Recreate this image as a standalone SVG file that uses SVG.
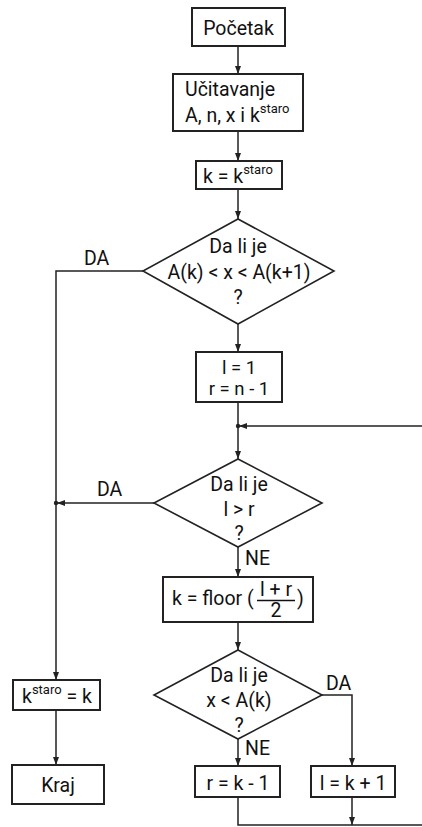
<svg xmlns="http://www.w3.org/2000/svg" width="422" height="827" viewBox="0 0 422 827">
<style>
.box{fill:#fff;stroke:#222;stroke-width:2}
.dia{fill:#fff;stroke:#222;stroke-width:1.6}
.ln{fill:none;stroke:#222;stroke-width:1.5}
text{font-family:Roboto,"Liberation Sans",sans-serif;font-size:19.5px;fill:#111}
.c{text-anchor:middle}
.sup{font-size:13px}
.tight{font-size:18.5px}
</style>
<defs>
<marker id="ar" viewBox="0 0 8 6" refX="8" refY="3" markerWidth="8" markerHeight="6" markerUnits="userSpaceOnUse" orient="auto">
<path d="M0,0 L8,3 L0,6 Z" fill="#222"/>
</marker>
</defs>
<rect width="422" height="827" fill="#fff"/>
<g id="connectors">
<line class="ln" x1="238" y1="46" x2="238" y2="74" marker-end="url(#ar)"/>
<line class="ln" x1="238" y1="131" x2="238" y2="161" marker-end="url(#ar)"/>
<line class="ln" x1="238" y1="189" x2="238" y2="219" marker-end="url(#ar)"/>
<line class="ln" x1="238" y1="324" x2="238" y2="352" marker-end="url(#ar)"/>
<line class="ln" x1="238" y1="402" x2="238" y2="459" marker-end="url(#ar)"/>
<line class="ln" x1="424" y1="426" x2="239" y2="426" marker-end="url(#ar)"/>
<circle cx="238" cy="426" r="2.2" fill="#222"/>
<polyline class="ln" points="143,271 56,271 56,680" marker-end="url(#ar)"/>
<line class="ln" x1="154" y1="503" x2="57" y2="503" marker-end="url(#ar)"/>
<circle cx="56" cy="503" r="2.2" fill="#222"/>
<line class="ln" x1="238" y1="547" x2="238" y2="577" marker-end="url(#ar)"/>
<line class="ln" x1="238" y1="622" x2="238" y2="650" marker-end="url(#ar)"/>
<line class="ln" x1="238" y1="739" x2="238" y2="766" marker-end="url(#ar)"/>
<polyline class="ln" points="322,695 352,695 352,766" marker-end="url(#ar)"/>
<line class="ln" x1="56" y1="710" x2="56" y2="765" marker-end="url(#ar)"/>
<polyline class="ln" points="238,797 238,825 424,825"/>
<line class="ln" x1="352" y1="797" x2="352" y2="825" marker-end="url(#ar)"/>
<text x="84" y="265">DA</text>
<text x="97" y="496">DA</text>
<text x="245" y="565">NE</text>
<text x="326" y="690">DA</text>
<text x="245" y="755">NE</text>
</g>
<g id="pocetak">
<rect class="box" x="192" y="8" width="93" height="38"/>
<text class="c" x="238.5" y="35">Početak</text>
</g>
<g id="ucitavanje">
<rect class="box" x="173" y="74" width="130" height="57"/>
<text x="185" y="96">Učitavanje</text>
<text x="185" y="121.5">A, n, x i k<tspan class="sup" dy="-9">staro</tspan></text>
</g>
<g id="kstaro">
<rect class="box" x="196" y="161" width="86" height="28"/>
<text x="203" y="183">k = k<tspan class="sup" dy="-9">staro</tspan></text>
</g>
<g id="uslov1">
<polygon class="dia" points="238,219 334,271 238,324 143,271"/>
<text class="c" x="238" y="253">Da li je</text>
<text class="c" x="239" y="279">A(k) &lt; x &lt; A(k+1)</text>
<text class="c" x="238" y="304">?</text>
</g>
<g id="init">
<rect class="box" x="196" y="352" width="86" height="50"/>
<text class="c tight" x="239" y="374">l = 1</text>
<text class="c tight" x="239" y="395">r = n - 1</text>
</g>
<g id="uslov2">
<polygon class="dia" points="238,459 322,503 238,547 154,503"/>
<text class="c" x="239" y="491">Da li je</text>
<text class="c" x="239" y="516">l &gt; r</text>
<text class="c" x="239" y="540">?</text>
</g>
<g id="floor">
<rect class="box" x="163" y="577" width="150" height="45"/>
<text x="172" y="605">k = floor (</text>
<text class="c" x="276" y="596">l + r</text>
<line x1="257" y1="600.5" x2="295" y2="600.5" stroke="#111" stroke-width="1.3"/>
<text class="c" x="276" y="617">2</text>
<text x="297" y="605">)</text>
</g>
<g id="uslov3">
<polygon class="dia" points="238,650 322,695 238,739 154,695"/>
<text class="c" x="239" y="682">Da li je</text>
<text class="c" x="239" y="707">x &lt; A(k)</text>
<text class="c" x="239" y="732">?</text>
</g>
<g id="kstaro-k">
<rect class="box" x="13" y="680" width="87" height="30"/>
<text x="22" y="703">k<tspan class="sup" dy="-9">staro</tspan><tspan dy="9"> = k</tspan></text>
</g>
<g id="kraj">
<rect class="box" x="12" y="765" width="92" height="39"/>
<text class="c" x="58" y="792">Kraj</text>
</g>
<g id="r-update">
<rect class="box" x="195" y="766" width="85" height="31"/>
<text class="c" x="238" y="790">r = k - 1</text>
</g>
<g id="l-update">
<rect class="box" x="311" y="766" width="84" height="31"/>
<text class="c" x="353" y="790">l = k + 1</text>
</g>
</svg>
